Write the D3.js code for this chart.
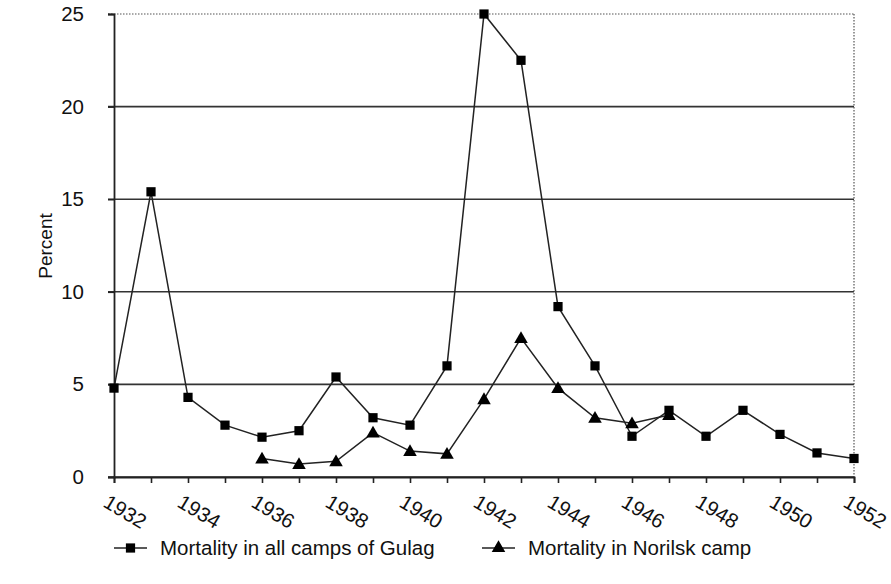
<!DOCTYPE html>
<html><head><meta charset="utf-8">
<script src="https://cdn.jsdelivr.net/npm/d3@7/dist/d3.min.js"></script>
<style>body{margin:0;background:#fff}svg{display:block}text{font-family:"Liberation Sans",Arial,sans-serif;fill:#111}</style>
</head><body><svg id="c" width="891" height="584"></svg>
<script>
const years = d3.range(1932, 1953);
const gulag = [4.8,15.4,4.3,2.8,2.15,2.5,5.4,3.2,2.8,6.0,25,22.5,9.2,6.0,2.2,3.6,2.2,3.6,2.3,1.3,1.0];
const norilskYears = [1936,1937,1938,1939,1940,1941,1942,1943,1944,1945,1946,1947];
const norilsk = [1.0,0.7,0.85,2.4,1.4,1.25,4.2,7.5,4.8,3.2,2.9,3.35];
const yTicks = [0,5,10,15,20,25];
const xLabelYears = d3.range(1932, 1953, 2);
const legendLabels = ["Mortality in all camps of Gulag","Mortality in Norilsk camp"];

const svg = d3.select("#c");
const x = d3.scaleLinear().domain([1932,1952]).range([114,854]);
const y = d3.scaleLinear().domain([0,25]).range([477,14]);
const ink = "#222";

svg.append("g").selectAll("line").data(yTicks.filter(v=>v<25)).join("line")
  .attr("x1",108).attr("x2",854).attr("y1",d=>y(d)).attr("y2",d=>y(d))
  .attr("stroke","#333").attr("stroke-width",1.6);
svg.append("line").attr("x1",108).attr("x2",854).attr("y1",y(25)).attr("y2",y(25))
  .attr("stroke","#555").attr("stroke-width",1.2).attr("stroke-dasharray","1.5,1.5");
svg.append("line").attr("x1",x(1952)).attr("x2",x(1952)).attr("y1",y(25)).attr("y2",y(0))
  .attr("stroke","#555").attr("stroke-width",1.2).attr("stroke-dasharray","1.5,1.5");
const yAxis = d3.axisLeft(y).tickValues(yTicks).tickSize(6).tickPadding(24);
const gy = svg.append("g").attr("transform","translate(114,0)").call(yAxis);
gy.attr("font-size",null).attr("font-family",null);
gy.select(".domain").attr("stroke",ink).attr("stroke-width",1.8);
gy.selectAll(".tick line").attr("stroke",ink).attr("stroke-width",1.6);
gy.selectAll(".tick text").style("font-size","20.5px").attr("fill","#111");
const xAxis = d3.axisBottom(x).tickValues(years).tickSize(6).tickFormat("");
const gx = svg.append("g").attr("transform","translate(0,477)").call(xAxis);
gx.select(".domain").attr("stroke",ink).attr("stroke-width",1.8);
gx.selectAll(".tick line").attr("stroke",ink).attr("stroke-width",1.6);
svg.append("g").selectAll("text").data(xLabelYears).join("text")
  .attr("transform",d=>`translate(${x(d)-12},${506}) rotate(31)`)
  .style("font-size","20.5px").text(d=>d);
svg.append("text").attr("transform","translate(52,246) rotate(-90)")
  .attr("text-anchor","middle").style("font-size","19px").text("Percent");

const line = d3.line().x(d=>x(d[0])).y(d=>y(d[1]));
const gData = years.map((yr,i)=>[yr,gulag[i]]);
const nData = norilskYears.map((yr,i)=>[yr,norilsk[i]]);
svg.append("path").datum(gData).attr("d",line).attr("fill","none").attr("stroke",ink).attr("stroke-width",1.5);
svg.append("path").datum(nData).attr("d",line).attr("fill","none").attr("stroke",ink).attr("stroke-width",1.5);
const sq = d3.symbol().type(d3.symbolSquare).size(85);
const tri = d3.symbol().type(d3.symbolTriangle).size(80);
svg.append("g").selectAll("path").data(gData).join("path")
  .attr("transform",d=>`translate(${x(d[0])},${y(d[1])})`).attr("d",sq()).attr("fill","#000");
svg.append("g").selectAll("path").data(nData).join("path")
  .attr("transform",d=>`translate(${x(d[0])},${y(d[1])+1})`).attr("d",tri()).attr("fill","#000");

const leg = [{x:114, sym:sq, label:legendLabels[0]},{x:482, sym:tri, label:legendLabels[1]}];
const lg = svg.append("g").selectAll("g").data(leg).join("g").attr("transform",d=>`translate(${d.x},548)`);
lg.append("line").attr("x1",0).attr("x2",33).attr("stroke",ink).attr("stroke-width",1.5);
lg.append("path").attr("transform","translate(16.5,0)").attr("d",d=>d.sym()).attr("fill","#000");
lg.append("text").attr("x",46).attr("y",7).style("font-size","20.5px").text(d=>d.label);
</script></body></html>
